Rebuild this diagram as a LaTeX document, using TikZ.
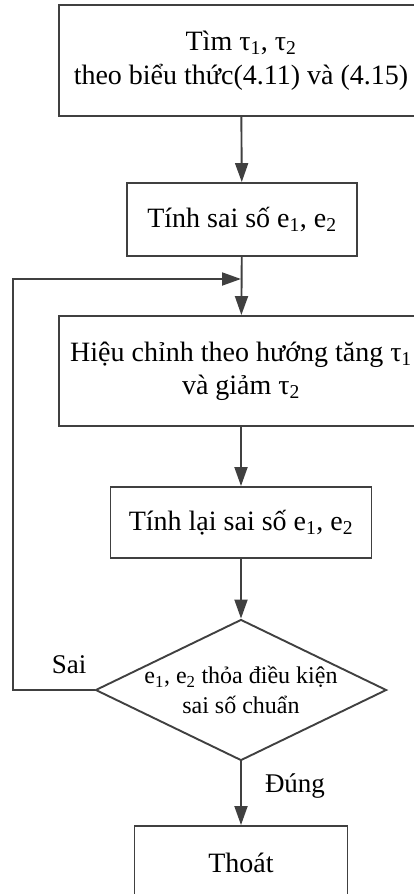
\documentclass[tikz,border=0pt]{standalone}
\usepackage{fontspec}
\setmainfont{Liberation Serif}
\usetikzlibrary{arrows.meta,shapes.geometric}
\definecolor{linegray}{HTML}{404040}
% small lowered index after tau and e
\newcommand{\lo}[1]{\textsubscript{#1}}
% zero-width centred line, so long text may run past its box
\newcommand{\cl}[1]{\makebox[0pt]{#1}}

\begin{document}
\begin{tikzpicture}[x=1pt,y=1pt,
  line/.style={draw=linegray, line width=1.9pt},
  arr/.style={line, -{Triangle[length=19pt,width=13pt]}},
  box/.style={line, rectangle, inner sep=0pt, align=center,
    font=\fontsize{28}{33}\selectfont},
  cond/.style={line, diamond, inner sep=0pt, align=center,
    font=\fontsize{24}{30}\selectfont},
  lbl/.style={font=\fontsize{27}{32}\selectfont, inner sep=0pt, anchor=base}]

  \clip (0,0) rectangle (414,-894);

  \node[box, minimum width=364pt, minimum height=111pt] (find) at (241,-60.5)
    {\cl{Tìm τ\lo{1}, τ\lo{2}}\\[1pt]\cl{theo biểu thức(4.11) và (4.15)}};
  \node[box, minimum width=230pt, minimum height=73pt] (err) at (242,-219.5)
    {\cl{Tính sai số e\lo{1}, e\lo{2}}};
  \node[box, minimum width=364pt, minimum height=110pt] (adj) at (241,-371)
    {\cl{Hiệu chỉnh theo hướng tăng τ\lo{1}}\\\cl{và giảm τ\lo{2}}};
  \node[box, minimum width=261pt, minimum height=71pt] (reerr) at (241,-522.5)
    {\cl{Tính lại sai số e\lo{1}, e\lo{2}}};
  \node[cond, minimum width=291pt, minimum height=141pt] (check) at (241,-690)
    {\cl{e\lo{1}, e\lo{2} thỏa điều kiện}\\\cl{sai số chuẩn}};
  \node[box, minimum width=213pt, minimum height=74pt] (exit) at (241,-863)
    {\cl{Thoát}};

  \coordinate (merge) at (241,-279);
  \coordinate (corner) at (13,-690);

  \draw[arr] (find) -- (err);
  \draw[arr] (err) -- (adj);
  \draw[arr] (adj) -- (reerr);
  \draw[arr] (reerr) -- (check);
  \draw[arr] (check) -- (exit);
  \draw[arr] (check.west) -- (corner) |- (merge);

  \node[lbl] (no) at (69,-673) {Sai};
  \node[lbl] (yes) at (295,-792) {Đúng};
\end{tikzpicture}
\end{document}
